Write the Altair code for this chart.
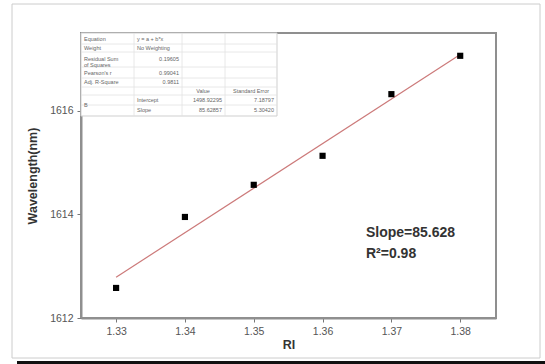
import altair as alt
import pandas as pd

# ---------------- data ----------------
ri = [1.33, 1.34, 1.35, 1.36, 1.37, 1.38]
wavelength = [1612.58, 1613.95, 1614.57, 1615.13, 1616.32, 1617.06]
x_ticks = [1.33, 1.34, 1.35, 1.36, 1.37, 1.38]
y_ticks = [1612, 1614, 1616]
x_domain = [1.3249, 1.3852]
y_domain = [1612, 1617.5]
annotation_lines = ["Slope=85.628", "R\u00b2=0.98"]

# fit-report table text
table_labels = ["Equation", "Weight", "Residual Sum\nof Squares", "Pearson's r", "Adj. R-Square"]
table_values = ["y = a + b*x", "No Weighting", "0.19605", "0.99041", "0.9811"]
param_group = "B"
param_names = ["Intercept", "Slope"]
param_values = ["1498.92295", "85.62857"]
param_errors = ["7.18797", "5.30420"]
param_headers = ["Value", "Standard Error"]

# ---------------- layout (pixels, relative to the plot area) ----------------
W, H = 415, 285
row_y = [6, 15, 26, 40, 49]          # rows of the upper block
hdr_y = 58
param_y = [67, 77]
col_x = [0, 53, 101, 144, 196]
hlines = [11, 19, 34, 45, 54, 62, 72]
tbl_bottom = 83

df = pd.DataFrame({"RI": ri, "Wavelength": wavelength})

xs = alt.Scale(domain=x_domain, nice=False, zero=False)
ys = alt.Scale(domain=y_domain, nice=False, zero=False)

points = alt.Chart(df).mark_square(size=38, color="black", opacity=1).encode(
    x=alt.X("RI:Q", scale=xs,
            axis=alt.Axis(values=x_ticks, format=".2f", title="RI")),
    y=alt.Y("Wavelength:Q", scale=ys,
            axis=alt.Axis(values=y_ticks, format="d", title="Wavelength(nm)")),
)

fit = alt.Chart(df).transform_regression(
    "RI", "Wavelength", extent=[1.33, 1.38]
).mark_line(color="#cc7a7a", strokeWidth=1.2).encode(
    x=alt.X("RI:Q", scale=xs),
    y=alt.Y("Wavelength:Q", scale=ys),
)

ann1 = alt.Chart(pd.DataFrame({"t": [annotation_lines[0]]})).mark_text(
    align="left", baseline="middle", fontSize=14, fontWeight="bold",
    color="#333333", font="Liberation Sans"
).encode(text="t:N", x=alt.value(285), y=alt.value(200))
ann2 = alt.Chart(pd.DataFrame({"t": [annotation_lines[1]]})).mark_text(
    align="left", baseline="middle", fontSize=14, fontWeight="bold",
    color="#333333", font="Liberation Sans"
).encode(text="t:N", x=alt.value(285), y=alt.value(221))

main = alt.layer(fit, points, ann1, ann2)

# ---------------- table layer (identity scales) ----------------
left_rows = []
for lab, yy in zip(table_labels, row_y):
    left_rows.append({"t": lab, "px": 3, "py": yy})
for val, yy in zip(table_values[:2], row_y[:2]):
    left_rows.append({"t": val, "px": 56, "py": yy})
left_rows.append({"t": param_group, "px": 3, "py": 72})
for nm, yy in zip(param_names, param_y):
    left_rows.append({"t": nm, "px": 56, "py": yy})
right_rows = []
for val, yy in zip(table_values[2:], row_y[2:]):
    right_rows.append({"t": val, "px": 98, "py": yy - (3 if "\n" in val else 0)})
for v, e, yy in zip(param_values, param_errors, param_y):
    right_rows.append({"t": v, "px": 141, "py": yy})
    right_rows.append({"t": e, "px": 193, "py": yy})
center_rows = [{"t": param_headers[0], "px": 122, "py": hdr_y},
               {"t": param_headers[1], "px": 170, "py": hdr_y}]

def tbl_text(rows, align):
    return alt.Chart(pd.DataFrame(rows)).mark_text(
        align=align, baseline="middle", fontSize=5.5, color="#666666",
        font="Liberation Sans", lineBreak="\n", lineHeight=6
    ).encode(
        text="t:N",
        x=alt.X("px:Q", scale=None, axis=None),
        y=alt.Y("py:Q", scale=None, axis=None),
    )

tbl_bg = alt.Chart(pd.DataFrame({"a": [0]})).mark_rect(
    fill="white", stroke="#cfcfcf", strokeWidth=1
).encode(x=alt.value(0), x2=alt.value(col_x[-1]), y=alt.value(0), y2=alt.value(tbl_bottom))

hl = pd.DataFrame({"px": [0] * len(hlines), "px2": [col_x[-1]] * len(hlines), "py": hlines})
tbl_h = alt.Chart(hl).mark_rule(color="#e2e2e2", strokeWidth=0.8).encode(
    x=alt.X("px:Q", scale=None, axis=None), x2="px2:Q",
    y=alt.Y("py:Q", scale=None, axis=None),
)
vl = pd.DataFrame({"px": col_x[1:-1], "py": [0] * 3, "py2": [tbl_bottom] * 3})
tbl_v = alt.Chart(vl).mark_rule(color="#e2e2e2", strokeWidth=0.8).encode(
    x=alt.X("px:Q", scale=None, axis=None),
    y=alt.Y("py:Q", scale=None, axis=None), y2="py2:Q",
)

table = alt.layer(tbl_bg, tbl_h, tbl_v,
                  tbl_text(left_rows, "left"),
                  tbl_text(right_rows, "right"),
                  tbl_text(center_rows, "center"))

# ---------------- picture frame decorations ----------------
outer = alt.Chart(pd.DataFrame({"a": [0]})).mark_rect(
    fill=None, stroke="#cccccc", strokeWidth=1
).encode(x=alt.value(-69), x2=alt.value(459), y=alt.value(-29), y2=alt.value(325))
black_bar = alt.Chart(pd.DataFrame({"a": [0]})).mark_rect(
    fill="#111111"
).encode(x=alt.value(-64), x2=alt.value(470), y=alt.value(328), y2=alt.value(332))

chart = alt.layer(outer, black_bar, table, main).resolve_scale(
    x="independent", y="independent"
).properties(
    width=W, height=H,
    autosize=alt.AutoSizeParams(type="none"),
    padding={"left": 81, "top": 33, "right": 49, "bottom": 46},
    background="white",
).configure_view(
    stroke="#8f8f8f", strokeWidth=2
).configure_axis(
    domainColor="#8f8f8f", domainWidth=2, tickColor="#777777", tickSize=4,
    labelColor="#555555", labelFontSize=10.5, labelFont="Liberation Sans",
    titleFont="Liberation Sans", titleFontSize=12.5, titleFontWeight="bold",
    titleColor="#333333", grid=False,
).configure_axisX(
    labelPadding=4, titlePadding=2
).configure_axisY(
    labelPadding=4, titlePadding=10
)

chart.save("out.html", embed_options={"renderer": "svg", "actions": False})
